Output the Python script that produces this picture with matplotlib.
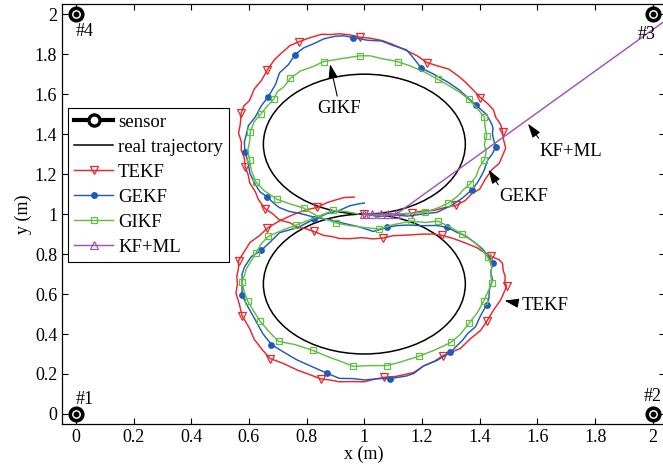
import matplotlib.pyplot as plt
from matplotlib.lines import Line2D
from matplotlib.patches import Ellipse

plt.rcParams['font.family'] = ['Liberation Serif', 'DejaVu Serif']

# sensores nos cantos
sensor_x = [0, 2, 2, 0]
sensor_y = [0, 0, 2, 2]
sensor_nome = ['#1', '#2', '#3', '#4']

# trajetoria real: dois circulos (centro x, centro y, raio)
circ_cx = [1.0, 1.0]
circ_cy = [1.35, 0.65]
circ_r = [0.35, 0.35]

tekf = [
    (1.00, 1.00), (1.04, 0.992), (1.08, 1.003), (1.12, 0.996), (1.166, 1.005),
    (1.20, 1.015), (1.24, 1.018), (1.28, 1.033), (1.317, 1.043), (1.35, 1.068),
    (1.372, 1.102), (1.40, 1.125), (1.418, 1.172), (1.442, 1.222), (1.468, 1.255),
    (1.479, 1.292), (1.49, 1.33), (1.482, 1.375), (1.479, 1.413), (1.472, 1.45),
    (1.455, 1.485), (1.448, 1.52), (1.428, 1.552), (1.402, 1.583), (1.383, 1.612),
    (1.352, 1.658), (1.328, 1.688), (1.293, 1.725), (1.262, 1.738), (1.217, 1.758),
    (1.183, 1.792), (1.146, 1.818), (1.10, 1.848), (1.062, 1.868), (1.02, 1.88),
    (0.984, 1.885), (0.95, 1.897), (0.913, 1.902), (0.88, 1.898), (0.853, 1.9),
    (0.81, 1.882), (0.775, 1.863), (0.742, 1.843), (0.71, 1.802), (0.688, 1.772),
    (0.664, 1.722), (0.643, 1.668), (0.618, 1.625), (0.602, 1.568), (0.583, 1.542),
    (0.573, 1.505), (0.57, 1.45), (0.564, 1.405), (0.574, 1.36), (0.573, 1.322),
    (0.584, 1.28), (0.587, 1.238), (0.597, 1.198), (0.603, 1.155), (0.622, 1.112),
    (0.633, 1.072), (0.656, 1.027), (0.682, 1.002), (0.706, 0.97), (0.742, 0.957),
    (0.765, 0.936), (0.797, 0.927), (0.825, 0.913), (0.86, 0.893), (0.89, 0.887),
    (0.913, 0.878), (0.95, 0.877), (0.99, 0.882), (1.03, 0.876), (1.065, 0.88),
    (1.10, 0.892), (1.148, 0.895), (1.18, 0.898), (1.207, 0.9), (1.24, 0.9),
    (1.27, 0.893), (1.31, 0.877), (1.354, 0.853), (1.39, 0.832), (1.415, 0.808),
    (1.438, 0.788), (1.467, 0.772), (1.479, 0.753), (1.481, 0.72), (1.488, 0.688),
    (1.487, 0.66), (1.493, 0.638), (1.483, 0.605), (1.473, 0.572), (1.448, 0.52),
    (1.424, 0.463), (1.403, 0.418), (1.366, 0.374), (1.333, 0.328), (1.273, 0.292),
    (1.242, 0.263), (1.205, 0.24), (1.172, 0.208), (1.146, 0.199), (1.11, 0.188),
    (1.068, 0.183), (1.03, 0.172), (1.00, 0.161), (0.96, 0.162), (0.913, 0.161),
    (0.88, 0.17), (0.85, 0.175), (0.81, 0.197), (0.767, 0.22), (0.72, 0.252),
    (0.674, 0.277), (0.648, 0.318), (0.618, 0.374), (0.602, 0.428), (0.576, 0.492),
    (0.567, 0.548), (0.555, 0.605), (0.56, 0.65), (0.558, 0.688), (0.564, 0.73),
    (0.564, 0.767), (0.582, 0.808), (0.603, 0.857), (0.637, 0.893), (0.664, 0.93),
    (0.702, 0.963), (0.752, 0.997), (0.80, 1.022), (0.837, 1.033), (0.87, 1.057),
    (0.899, 1.07), (0.93, 1.083), (0.965, 1.085),
]
tekf_mk = [0, 4, 8, 18, 23, 29, 35, 41, 45, 50, 56, 61, 67, 74, 80, 85, 91,
           95, 99, 105, 111, 115, 119, 125, 129, 133]

gekf = [
    (1.00, 1.00), (1.05, 0.988), (1.10, 0.996), (1.15, 0.99), (1.21, 1.002),
    (1.25, 1.008), (1.30, 1.042), (1.338, 1.078), (1.373, 1.122), (1.392, 1.158),
    (1.405, 1.19), (1.416, 1.222), (1.428, 1.272), (1.442, 1.298), (1.457, 1.338),
    (1.448, 1.37), (1.444, 1.405), (1.446, 1.43), (1.44, 1.455), (1.422, 1.50),
    (1.386, 1.547), (1.362, 1.578), (1.328, 1.622), (1.292, 1.658), (1.238, 1.702),
    (1.197, 1.73), (1.172, 1.778), (1.146, 1.822), (1.10, 1.843), (1.06, 1.866),
    (1.01, 1.87), (0.962, 1.883), (0.93, 1.892), (0.899, 1.89), (0.86, 1.877),
    (0.825, 1.853), (0.79, 1.832), (0.759, 1.797), (0.737, 1.748), (0.706, 1.707),
    (0.692, 1.648), (0.667, 1.588), (0.643, 1.542), (0.622, 1.486), (0.598, 1.442),
    (0.592, 1.405), (0.584, 1.36), (0.586, 1.313), (0.597, 1.258), (0.603, 1.205),
    (0.622, 1.148), (0.638, 1.112), (0.664, 1.085), (0.687, 1.053), (0.706, 1.032),
    (0.74, 1.013), (0.78, 1.002), (0.83, 0.983), (0.88, 0.972), (0.93, 0.953),
    (0.98, 0.937), (1.031, 0.913), (1.078, 0.933), (1.11, 0.942), (1.148, 0.945),
    (1.20, 0.942), (1.25, 0.943), (1.288, 0.933), (1.322, 0.908), (1.352, 0.89),
    (1.387, 0.853), (1.411, 0.824), (1.445, 0.755), (1.438, 0.71), (1.444, 0.672),
    (1.433, 0.62), (1.432, 0.58), (1.424, 0.547), (1.403, 0.492), (1.385, 0.436),
    (1.358, 0.402), (1.341, 0.37), (1.298, 0.308), (1.252, 0.268), (1.205, 0.24),
    (1.172, 0.203), (1.146, 0.19), (1.09, 0.177), (1.05, 0.177), (1.001, 0.17),
    (0.96, 0.177), (0.913, 0.178), (0.869, 0.205), (0.818, 0.237), (0.767, 0.27),
    (0.722, 0.308), (0.678, 0.347), (0.648, 0.402), (0.622, 0.47), (0.598, 0.532),
    (0.576, 0.593), (0.576, 0.65), (0.576, 0.70), (0.585, 0.736), (0.608, 0.787),
    (0.642, 0.818), (0.672, 0.858), (0.706, 0.907), (0.77, 0.933), (0.826, 0.975),
    (0.87, 1.002), (0.913, 1.018), (0.95, 1.042), (0.987, 1.053), (1.00, 1.055),
]
gekf_mk = [8, 14, 20, 25, 31, 37, 41, 47, 52, 62, 67, 72, 77, 82, 87, 92, 96,
           100, 105, 109]

gikf = [
    (1.00, 1.00), (1.06, 0.993), (1.12, 1.002), (1.17, 1.004), (1.21, 1.01),
    (1.25, 1.028), (1.291, 1.055), (1.322, 1.088), (1.343, 1.122), (1.366, 1.15),
    (1.387, 1.188), (1.398, 1.232), (1.416, 1.272), (1.422, 1.31), (1.416, 1.35),
    (1.424, 1.392), (1.418, 1.44), (1.416, 1.485), (1.392, 1.528), (1.361, 1.575),
    (1.332, 1.608), (1.288, 1.647), (1.254, 1.675), (1.212, 1.708), (1.158, 1.742),
    (1.115, 1.763), (1.06, 1.778), (1.02, 1.792), (0.984, 1.792), (0.94, 1.782),
    (0.90, 1.773), (0.859, 1.763), (0.822, 1.738), (0.78, 1.717), (0.744, 1.68),
    (0.722, 1.638), (0.698, 1.612), (0.686, 1.575), (0.662, 1.538), (0.642, 1.502),
    (0.618, 1.462), (0.605, 1.413), (0.602, 1.36), (0.596, 1.32), (0.602, 1.272),
    (0.608, 1.22), (0.623, 1.163), (0.652, 1.118), (0.696, 1.075), (0.74, 1.052),
    (0.79, 1.03), (0.84, 0.988), (0.903, 0.955), (0.95, 0.942), (1.00, 0.933),
    (1.05, 0.925), (1.10, 0.947), (1.163, 0.965), (1.21, 0.958), (1.254, 0.965),
    (1.30, 0.933), (1.339, 0.90), (1.382, 0.858), (1.408, 0.822), (1.427, 0.785),
    (1.442, 0.74), (1.438, 0.70), (1.442, 0.655), (1.428, 0.61), (1.413, 0.563),
    (1.392, 0.508), (1.364, 0.455), (1.332, 0.398), (1.30, 0.358), (1.248, 0.322),
    (1.188, 0.288), (1.13, 0.262), (1.079, 0.242), (1.02, 0.242), (0.962, 0.238),
    (0.92, 0.262), (0.88, 0.283), (0.821, 0.318), (0.76, 0.347), (0.703, 0.363),
    (0.672, 0.408), (0.639, 0.463), (0.613, 0.522), (0.595, 0.567), (0.584, 0.61),
    (0.576, 0.658), (0.592, 0.728), (0.624, 0.805), (0.643, 0.852), (0.667, 0.888),
    (0.72, 0.922), (0.764, 0.945), (0.83, 0.983), (0.891, 1.018), (0.94, 1.012),
    (0.98, 1.00),
]
gikf_mk = [4, 6, 9, 12, 15, 17, 19, 22, 25, 28, 31, 34, 37, 39, 41, 44, 46, 48,
           50, 52, 55, 57, 59, 61, 64, 67, 69, 71, 73, 75, 77, 79, 82, 84, 86,
           88, 90, 92, 94, 96, 98]

kfml = [(1.00, 1.00), (1.028, 1.00), (1.056, 1.00), (1.083, 1.00), (1.111, 1.00),
        (2.04, 1.965)]
kfml_mk = [0, 1, 2, 3, 4]

# anotacoes: texto, posicao do texto, inicio e ponta da seta
anot_txt = ['GIKF', 'KF+ML', 'GEKF', 'TEKF']
anot_pos = [(0.913, 1.53), (1.714, 1.313), (1.552, 1.088), (1.625, 0.542)]
anot_ini = [(0.906, 1.59), (1.604, 1.38), (1.464, 1.147), (1.53, 0.555)]
anot_fim = [(0.881, 1.75), (1.567, 1.452), (1.43, 1.222), (1.486, 0.567)]

vermelho = '#e8262b'
azul = '#1f5bbd'
verde = '#62bf43'
roxo = '#a055b5'

fig = plt.figure(figsize=(6.63, 4.70), dpi=100)
ax = fig.add_axes([0.0935, 0.098, 0.9095, 0.893])

for cx, cy, r in zip(circ_cx, circ_cy, circ_r):
    ax.add_patch(Ellipse((cx, cy), 2 * r, 2 * r, fill=False, ec='k', lw=1.1))


def desenha(pts, mk, cor, marcador, ms, cheio=False):
    xs = [p[0] for p in pts]
    ys = [p[1] for p in pts]
    ax.plot(xs, ys, color=cor, lw=1.05, marker=marcador, markevery=mk, ms=ms,
            mfc=cor if cheio else 'none', mec=cor, mew=0.9)


desenha(tekf, tekf_mk, vermelho, 'v', 6)
desenha(gekf, gekf_mk, azul, 'o', 4, cheio=True)
desenha(gikf, gikf_mk, verde, 's', 5)
desenha(kfml, kfml_mk, roxo, '^', 6)

ax.plot(sensor_x, sensor_y, ls='none', marker='o', ms=9, mfc='white', mec='k',
        mew=2.6, clip_on=False, zorder=5)
ax.plot(sensor_x, sensor_y, ls='none', marker='o', ms=3.2, color='k',
        clip_on=False, zorder=6)
deslocamento = [(0.0, 0.07), (0.0, 0.085), (-0.02, -0.1), (0.0, -0.085)]
for x, y, n, d in zip(sensor_x, sensor_y, sensor_nome, deslocamento):
    ax.text(x + d[0], y + d[1], n, fontsize=13, ha='left' if x == 0 else 'center',
            va='center')

for t, p, a, b in zip(anot_txt, anot_pos, anot_ini, anot_fim):
    ax.text(p[0], p[1], t, fontsize=13.5, ha='center', va='center')
    ax.annotate('', xy=b, xytext=a,
                arrowprops=dict(arrowstyle='-|>,head_length=0.85,head_width=0.28',
                                color='k', lw=0.8, shrinkA=0, shrinkB=0))

ax.set_xlim(-0.048, 2.042)
ax.set_ylim(-0.05, 2.05)
ax.set_xticks([0, 0.2, 0.4, 0.6, 0.8, 1, 1.2, 1.4, 1.6, 1.8, 2])
ax.set_xticklabels(['0', '0.2', '0.4', '0.6', '0.8', '1', '1.2', '1.4', '1.6', '1.8', '2'])
ax.set_yticks([0, 0.2, 0.4, 0.6, 0.8, 1, 1.2, 1.4, 1.6, 1.8, 2])
ax.set_yticklabels(['0', '0.2', '0.4', '0.6', '0.8', '1', '1.2', '1.4', '1.6', '1.8', '2'])
ax.tick_params(direction='in', top=True, right=True, labelsize=13, length=4,
               width=0.8)
ax.set_xlabel('x (m)', fontsize=13, labelpad=0)
ax.set_ylabel('y (m)', fontsize=13, labelpad=2)
for s in ax.spines.values():
    s.set_linewidth(0.9)

handles = [
    Line2D([], [], color='k', lw=3, marker='o', ms=8, mfc='white', mew=2.4),
    Line2D([], [], color='k', lw=1.1),
    Line2D([], [], color=vermelho, lw=1.05, marker='v', ms=6, mfc='none', mew=0.9),
    Line2D([], [], color=azul, lw=1.05, marker='o', ms=4),
    Line2D([], [], color=verde, lw=1.05, marker='s', ms=5, mfc='none', mew=0.9),
    Line2D([], [], color=roxo, lw=1.05, marker='^', ms=6, mfc='none', mew=0.9),
]
nomes = ['sensor', 'real trajectory', 'TEKF', 'GEKF', 'GIKF', 'KF+ML']
leg = ax.legend(handles, nomes, loc='upper left', bbox_to_anchor=(0.01, 0.753),
                borderaxespad=0, fontsize=13.5, fancybox=False, framealpha=1,
                edgecolor='k', handlelength=2.1, handletextpad=0.25,
                labelspacing=0.42, borderpad=0.32)
leg.get_frame().set_linewidth(0.8)

fig.savefig('out.png', dpi=100)
